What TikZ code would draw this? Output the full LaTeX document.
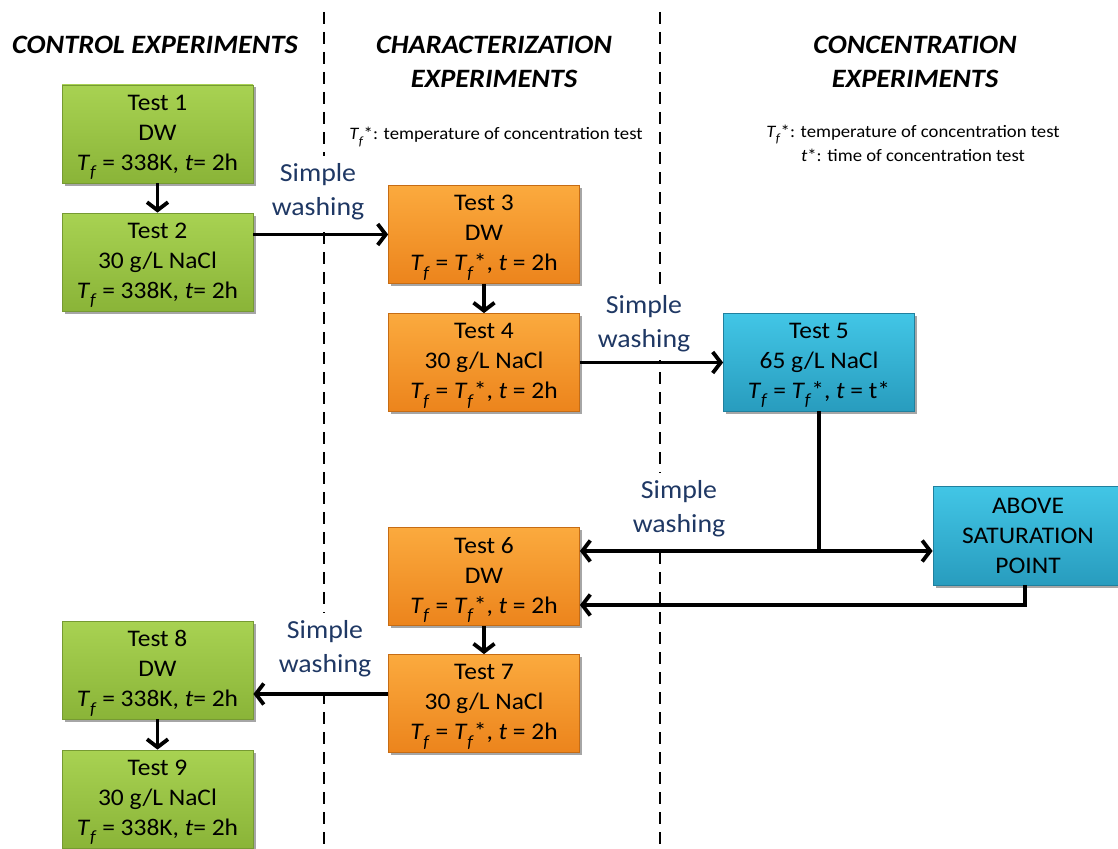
\documentclass[tikz,border=0pt]{standalone}
\usepackage{fontspec}
\setmainfont{Carlito}[FakeStretch=1.07]
\usetikzlibrary{arrows.meta,shadows,calc}
\newcommand\Tf{\textit{T}\kern-0.3pt\raisebox{-0.32em}[0pt][0pt]{\scalebox{0.72}{\textit{f}}}}
\definecolor{gtop}{RGB}{168,210,82}
\definecolor{gbot}{RGB}{138,180,56}
\definecolor{gdraw}{RGB}{118,154,50}
\definecolor{otop}{RGB}{251,170,62}
\definecolor{obot}{RGB}{236,132,28}
\definecolor{odraw}{RGB}{198,108,20}
\definecolor{btop}{RGB}{66,198,230}
\definecolor{bbot}{RGB}{40,156,190}
\definecolor{bdraw}{RGB}{32,128,158}
\definecolor{navy}{RGB}{31,56,100}
\tikzset{
  box/.style={rectangle, minimum width=191pt, minimum height=98pt, align=center,
    font=\fontsize{23.8}{30}\selectfont, inner sep=0pt, line width=0.8pt,
    drop shadow={shadow xshift=2.5pt, shadow yshift=-2.5pt, opacity=0.35, fill=black}},
  gbox/.style={box, top color=gtop, bottom color=gbot, draw=gdraw},
  obox/.style={box, top color=otop, bottom color=obot, draw=odraw},
  bbox/.style={box, top color=btop, bottom color=bbot, draw=bdraw},
  header/.style={font=\fontsize{26.5}{34}\selectfont\bfseries\itshape, align=center, inner sep=0pt},
  note/.style={font=\fontsize{17.5}{24}\selectfont, align=center, inner sep=0pt},
  wash/.style={font=\fontsize{26}{34}\selectfont, text=navy, align=center, fill=white, inner xsep=4pt, inner ysep=8pt},
  arr/.style={line width=3.8pt, -{Straight Barb[length=8pt,width=21pt]}},
  conn/.style={line width=3.8pt},
  divider/.style={line width=2.6pt, dash pattern=on 12pt off 8pt},
}
\begin{document}
\begin{tikzpicture}[x=1pt,y=-1pt]
\clip (0,0) rectangle (1118,848);
\fill[white] (0,0) rectangle (1118,848);
% dividers
\coordinate (d1t) at (324,0); \coordinate (d1b) at (324,848);
\coordinate (d2t) at (660,0); \coordinate (d2b) at (660,848);
\draw[divider] ([yshift=-12pt]d1t) -- (d1b);
\draw[divider] ([yshift=-12pt]d2t) -- (d2b);
% headers
\node[header] (h1) at (155,45) {CONTROL EXPERIMENTS};
\node[header] (h2) at (494,62) {CHARACTERIZATION\\EXPERIMENTS};
\node[header] (h3) at (915,62) {CONCENTRATION\\EXPERIMENTS};
% notes
\node[note] (n1) at (496,135) {\Tf*: temperature of concentration test};
\node[note] (n2) at (913,143) {\Tf*: temperature of concentration test\\\textit{t}*: time of concentration test};
% washing labels
\node[wash] (w1) at (318,192) {Simple\\washing};
\node[wash] (w2) at (644,324) {Simple\\washing};
\node[wash] (w3) at (679,509) {Simple\\washing};
\node[wash] (w4) at (325,649) {Simple\\washing};
% boxes
\node[gbox] (t1) at (157.5,134) {Test 1\\DW\\\Tf{} = 338K, \textit{t}= 2h};
\node[gbox] (t2) at (157.5,262) {Test 2\\30 g/L NaCl\\\Tf{} = 338K, \textit{t}= 2h};
\node[obox] (t3) at (484,234.5) {Test 3\\DW\\\Tf{} = \Tf*, \textit{t} = 2h};
\node[obox] (t4) at (484,362.5) {Test 4\\30 g/L NaCl\\\Tf{} = \Tf*, \textit{t} = 2h};
\node[bbox] (t5) at (819,362) {Test 5\\65 g/L NaCl\\\Tf{} = \Tf*, \textit{t} = t*};
\node[bbox, minimum width=190pt, minimum height=99pt] (sat) at (1028,535.5) {ABOVE\\SATURATION\\POINT};
\node[obox] (t6) at (484,576.5) {Test 6\\DW\\\Tf{} = \Tf*, \textit{t} = 2h};
\node[obox] (t7) at (484,703.5) {Test 7\\30 g/L NaCl\\\Tf{} = \Tf*, \textit{t} = 2h};
\node[gbox] (t8) at (157.5,670) {Test 8\\DW\\\Tf{} = 338K, \textit{t}= 2h};
\node[gbox] (t9) at (157.5,799) {Test 9\\30 g/L NaCl\\\Tf{} = 338K, \textit{t}= 2h};
% connectors
\draw[arr] (t1) -- (t2);
\draw[arr] (t2.east |- t3.west) -- (t3.west);
\draw[arr] (t3) -- (t4);
\draw[arr] (t4.east) -- (t5.west |- t4.east);
\coordinate (j) at (t5.south |- 0,551);
\draw[conn] (t5.south) -- ([yshift=-1.9pt]j);
\draw[arr] (j) -- (t6.east |- j);
\draw[arr] (j) -- (sat.west |- j);
\coordinate (k) at ([xshift=-3pt]sat.south |- 0,605);
\draw[arr] ([xshift=-3pt]sat.south) -- (k) -- (t6.east |- k);
\draw[arr] (t6) -- (t7);
\coordinate (m) at (t7.west |- 0,694);
\draw[arr] (m) -- (t8.east |- m);
\draw[arr] (t8) -- (t9);
\end{tikzpicture}
\end{document}
